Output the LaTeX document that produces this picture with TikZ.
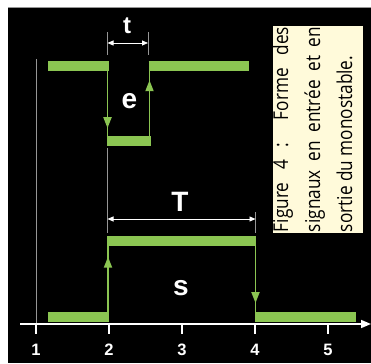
\documentclass[tikz,border=0pt]{standalone}
\usepackage{fontspec}
\setmainfont{Liberation Sans}
\newfontfamily\capfont[FakeStretch=0.84]{Open Sans}
\usetikzlibrary{arrows.meta, decorations.markings}
\definecolor{SigGreen}{RGB}{139,197,82}
\definecolor{CapCream}{RGB}{255,250,218}
\definecolor{RuleGray}{RGB}{150,150,150}

\tikzset{
  bar/.style={draw=SigGreen, line width=10pt},
  edge/.style={draw=SigGreen, line width=1.8pt, postaction={decorate},
    decoration={markings, mark=at position #1 with {\arrow[SigGreen]{Triangle[length=11pt,width=8pt]}}}},
  guide/.style={draw=RuleGray, line width=0.9pt},
  dimarrow/.style={draw=white, line width=0.8pt, {Triangle[length=6pt,width=5pt]}-{Triangle[length=6pt,width=5pt]}},
  axis/.style={draw=white, line width=1.6pt, -{Triangle[length=10pt,width=8pt]}},
  tick/.style={draw=white, line width=1.6pt},
  biglabel/.style={text=white, font=\bfseries\fontsize{28}{28}\selectfont, inner sep=0pt},
  ticklabel/.style={text=white, font=\bfseries\fontsize{16.5}{16.5}\selectfont, inner sep=0pt}
}

\begin{document}
\begin{tikzpicture}[x=1pt, y=-1pt]
    \useasboundingbox (0,0) rectangle (371,363);
    % Background
    \fill[black] (8,8) rectangle (371,363);
    \draw[RuleGray, line width=1pt] (8,7.5) -- (371,7.5);

    % Caption
    \node[rotate=90, fill=CapCream, text=black, inner xsep=1pt, inner ysep=0pt,
          text width=205pt, text height=15pt, text depth=75pt, align=justify,
          font=\capfont\fontsize{20.5}{32}\selectfont] (caption)
      at (318,129.5) {\hyphenpenalty=10000\parfillskip=0pt Figure 4 : Forme des\linebreak signaux en entr\'ee et en\linebreak sortie du monostable.};

    % Origin line
    \coordinate (o1) at (36,59);
    \coordinate (o2) at (36,324);
    \draw[guide] (o1) -- (o2);

    % Axis
    \coordinate (axL) at (20,324);
    \coordinate (axR) at (371,324);
    \draw[axis] (axL) -- (axR);
    \foreach \n/\x in {1/36, 2/109, 3/182, 4/255, 5/328} {
      \coordinate (tk\n) at (\x,324);
      \coordinate (tb\n) at (\x,334);
      \draw[tick] (tk\n) -- (tb\n);
      \node[ticklabel] (lab\n) at (\x,350) {\n};
    }

    % Input signal e
    \coordinate (eA) at (48,66);
    \coordinate (eB) at (108.5,66);
    \coordinate (eC) at (107.5,61);
    \coordinate (eD) at (107.5,141);
    \coordinate (eE) at (106.7,141);
    \coordinate (eF) at (150.7,141);
    \coordinate (eG) at (149.5,141);
    \coordinate (eH) at (149.5,61);
    \coordinate (eI) at (148.7,66);
    \coordinate (eJ) at (249.3,66);
    \draw[bar] (eA) -- (eB);
    \draw[edge=0.84] (eC) -- (eD);
    \draw[bar] (eE) -- (eF);
    \draw[edge=0.76] (eG) -- (eH);
    \draw[bar] (eI) -- (eJ);
    \node[biglabel] (elab) at (129.5,101) {e};

    % Width t
    \coordinate (t1) at (107.5,32);
    \coordinate (t2) at (107.5,55);
    \coordinate (t3) at (148,32);
    \coordinate (t4) at (148,55);
    \draw[guide] (t1) -- (t2);
    \draw[guide] (t3) -- (t4);
    \coordinate (tL) at (107.5,43);
    \coordinate (tR) at (148,43);
    \draw[dimarrow] (tL) -- (tR);
    \node[biglabel, font=\bfseries\fontsize{24}{24}\selectfont] (tlab) at (127,26) {t};

    % Output signal s
    \coordinate (sA) at (48,317);
    \coordinate (sB) at (109,317);
    \coordinate (sC) at (108,322);
    \coordinate (sD) at (108,236);
    \coordinate (sE) at (107,241);
    \coordinate (sF) at (256,241);
    \coordinate (sG) at (255.5,236);
    \coordinate (sH) at (255.5,322);
    \coordinate (sI) at (255,317);
    \coordinate (sJ) at (356,317);
    \draw[bar] (sA) -- (sB);
    \draw[edge=0.76] (sC) -- (sD);
    \draw[bar] (sE) -- (sF);
    \draw[edge=0.78] (sG) -- (sH);
    \draw[bar] (sI) -- (sJ);
    \node[biglabel] (slab) at (181,288) {s};

    % Width T
    \coordinate (T1) at (107.5,148);
    \coordinate (T2) at (107.5,233);
    \coordinate (T3) at (255.5,212);
    \coordinate (T4) at (255.5,233);
    \draw[guide] (T1) -- (T2);
    \draw[guide] (T3) -- (T4);
    \coordinate (TL) at (107.5,219);
    \coordinate (TR) at (255.5,219);
    \draw[dimarrow] (TL) -- (TR);
    \node[biglabel] (Tlab) at (180,201.5) {T};
\end{tikzpicture}
\end{document}
